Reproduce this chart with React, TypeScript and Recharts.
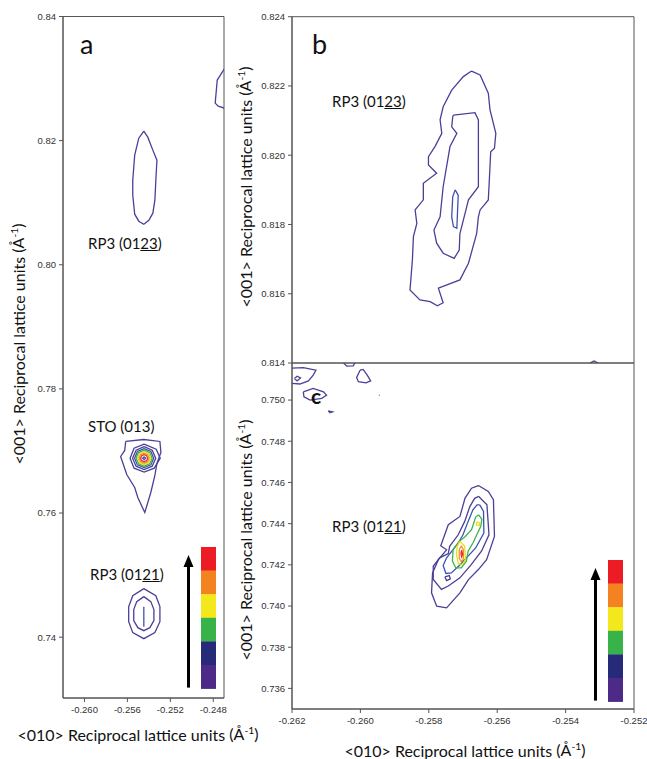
import { ScatterChart, Scatter, XAxis, YAxis, ReferenceArea } from "recharts";

type Pt = [number, number];
interface Contour {
  level: number;
  points: Pt[];
  open?: boolean;
}

// ticks
const aXTicks = [-0.26, -0.256, -0.252, -0.248];
const aYTicks = [0.74, 0.76, 0.78, 0.8, 0.82, 0.84];
const bYTicks = [0.814, 0.816, 0.818, 0.82, 0.822, 0.824];
const cXTicks = [-0.262, -0.26, -0.258, -0.256, -0.254, -0.252];
const cYTicks = [0.736, 0.738, 0.74, 0.742, 0.744, 0.746, 0.748, 0.75];

// panel a: wide map with RP3 (0123), STO (013), RP3 (0121)
const aContours: Contour[] = [
  {
    level: 0,
    points: [
      [-0.25447, 0.82153], [-0.2541, 0.82056], [-0.25363, 0.81847], [-0.25325, 0.81685],
      [-0.25335, 0.81363], [-0.25344, 0.8104], [-0.25363, 0.80831], [-0.254, 0.80718],
      [-0.25447, 0.80653], [-0.25494, 0.80702], [-0.25532, 0.80815], [-0.2555, 0.81121],
      [-0.2555, 0.81363], [-0.25532, 0.81766], [-0.25494, 0.8204],
    ],
  },
  {
    level: 0,
    open: true,
    points: [
      [-0.24698, 0.83153], [-0.24763, 0.82976], [-0.24782, 0.82605], [-0.24754, 0.82556], [-0.24698, 0.82524],
    ],
  },
  // STO (013)
  {
    level: 0,
    points: [
      [-0.25616, 0.77153], [-0.25447, 0.77185], [-0.25297, 0.77153], [-0.25288, 0.76976],
      [-0.25325, 0.76798], [-0.25344, 0.76605], [-0.25382, 0.76331], [-0.25438, 0.76008],
      [-0.25503, 0.7625], [-0.25532, 0.76411], [-0.25606, 0.76621], [-0.25644, 0.76815],
      [-0.25663, 0.76911], [-0.25625, 0.77008],
    ],
  },
  {
    level: 1,
    points: [
      [-0.25444, 0.77109], [-0.25332, 0.77029], [-0.25294, 0.76884], [-0.2535, 0.76723],
      [-0.25444, 0.76659], [-0.25538, 0.76723], [-0.25575, 0.76884], [-0.25538, 0.77045],
    ],
  },
  {
    level: 1,
    points: [
      [-0.25444, 0.77069], [-0.25369, 0.77013], [-0.25336, 0.76884], [-0.25369, 0.76755],
      [-0.25444, 0.76699], [-0.25519, 0.76755], [-0.25552, 0.76884], [-0.25519, 0.77013],
    ],
  },
  {
    level: 2,
    points: [
      [-0.25444, 0.77037], [-0.25381, 0.76992], [-0.25355, 0.76884], [-0.25381, 0.76776],
      [-0.25444, 0.76731], [-0.25507, 0.76776], [-0.25533, 0.76884], [-0.25507, 0.76992],
    ],
  },
  {
    level: 3,
    points: [
      [-0.25444, 0.77013], [-0.25392, 0.76974], [-0.25369, 0.76884], [-0.25392, 0.76794],
      [-0.25444, 0.76755], [-0.25496, 0.76794], [-0.25519, 0.76884], [-0.25496, 0.76974],
    ],
  },
  {
    level: 4,
    points: [
      [-0.25444, 0.76989], [-0.25401, 0.76958], [-0.25383, 0.76884], [-0.25401, 0.7681],
      [-0.25444, 0.76779], [-0.25487, 0.7681], [-0.25505, 0.76884], [-0.25487, 0.76958],
    ],
  },
  {
    level: 5,
    points: [
      [-0.25444, 0.76965], [-0.25411, 0.7694], [-0.25397, 0.76884], [-0.25411, 0.76828],
      [-0.25444, 0.76803], [-0.25477, 0.76828], [-0.25491, 0.76884], [-0.25477, 0.7694],
    ],
  },
  {
    level: 6,
    points: [
      [-0.25444, 0.7694], [-0.25421, 0.76924], [-0.25411, 0.76884], [-0.25421, 0.76844],
      [-0.25444, 0.76828], [-0.25467, 0.76844], [-0.25477, 0.76884], [-0.25467, 0.76924],
    ],
  },
  {
    level: 2,
    points: [
      [-0.25444, 0.76908], [-0.2543, 0.76884], [-0.25444, 0.7686], [-0.25458, 0.76884],
    ],
  },
  // RP3 (0121)
  {
    level: 0,
    points: [
      [-0.25447, 0.74782], [-0.25335, 0.74669], [-0.25297, 0.74492], [-0.25297, 0.7425],
      [-0.25344, 0.74073], [-0.25447, 0.73976], [-0.2555, 0.74073], [-0.25588, 0.7425],
      [-0.25588, 0.74492], [-0.2555, 0.74669],
    ],
  },
  {
    level: 1,
    points: [
      [-0.25447, 0.74653], [-0.25382, 0.74573], [-0.25353, 0.74444], [-0.25353, 0.74266],
      [-0.25391, 0.74153], [-0.25447, 0.74105], [-0.25503, 0.74153], [-0.25541, 0.74266],
      [-0.25541, 0.74444], [-0.25513, 0.74573],
    ],
  },
  { level: 2, open: true, points: [[-0.25447, 0.74492], [-0.25447, 0.74169]] },
];

// panel b: RP3 (0123) close-up
const bContours: Contour[] = [
  {
    level: 0,
    points: [
      [-0.25675, 0.82243], [-0.2565, 0.82232], [-0.25626, 0.82179], [-0.25621, 0.82131],
      [-0.25604, 0.82063], [-0.25608, 0.8202], [-0.25619, 0.8201], [-0.25623, 0.81928],
      [-0.25626, 0.81871], [-0.2565, 0.81842], [-0.25655, 0.81822], [-0.2566, 0.81774],
      [-0.25684, 0.81688], [-0.25709, 0.8164], [-0.25772, 0.81616], [-0.25758, 0.81574],
      [-0.25775, 0.81565], [-0.25796, 0.81577], [-0.25826, 0.81582], [-0.25855, 0.81611],
      [-0.25848, 0.81697], [-0.25845, 0.81765], [-0.25835, 0.81803], [-0.2584, 0.81842],
      [-0.25816, 0.81871], [-0.25816, 0.81919], [-0.25777, 0.81948], [-0.25801, 0.81972],
      [-0.25801, 0.81996], [-0.25782, 0.82025], [-0.25762, 0.82063], [-0.25767, 0.82102],
      [-0.25758, 0.8214], [-0.25733, 0.82188], [-0.25699, 0.82227],
    ],
  },
  {
    level: 1,
    points: [
      [-0.25728, 0.82116], [-0.25665, 0.82123], [-0.25655, 0.82102], [-0.25655, 0.82015],
      [-0.25655, 0.81909], [-0.25684, 0.81871], [-0.25694, 0.81832], [-0.25709, 0.81774],
      [-0.25711, 0.81726], [-0.25726, 0.81702], [-0.25758, 0.81717], [-0.25777, 0.81746],
      [-0.25785, 0.81784], [-0.25767, 0.81822], [-0.25758, 0.81909], [-0.25748, 0.81967],
      [-0.25738, 0.82025], [-0.25718, 0.82063], [-0.25733, 0.82082], [-0.2573, 0.82111],
    ],
  },
  {
    level: 2,
    points: [
      [-0.25723, 0.819], [-0.25714, 0.81885], [-0.25718, 0.81789], [-0.25728, 0.81794],
      [-0.25733, 0.81822], [-0.2573, 0.8188],
    ],
  },
  { level: 0, open: true, points: [[-0.25329, 0.814], [-0.25317, 0.81406], [-0.25305, 0.814]] },
];

// panel c: RP3 (0121) close-up
const cContours: Contour[] = [
  {
    level: 0,
    points: [
      [-0.25655, 0.74585], [-0.25626, 0.74556], [-0.25611, 0.74516], [-0.25608, 0.74338],
      [-0.25631, 0.74225], [-0.25655, 0.74177], [-0.25684, 0.74128], [-0.25709, 0.74064],
      [-0.25748, 0.73991], [-0.25777, 0.73999], [-0.25792, 0.74064], [-0.25789, 0.74161],
      [-0.25772, 0.74225], [-0.25748, 0.74273], [-0.25765, 0.74293], [-0.25743, 0.74395],
      [-0.25709, 0.74435], [-0.25694, 0.74524], [-0.25675, 0.74572],
    ],
  },
  {
    level: 1,
    points: [
      [-0.25654, 0.74532], [-0.2563, 0.74491], [-0.25624, 0.74346], [-0.25646, 0.74266],
      [-0.25676, 0.74201], [-0.25709, 0.74137], [-0.25743, 0.74097], [-0.25763, 0.74081],
      [-0.25787, 0.74129], [-0.25787, 0.74193], [-0.25768, 0.74234], [-0.25743, 0.74255],
      [-0.25739, 0.7429], [-0.25714, 0.74346], [-0.25695, 0.74411], [-0.2568, 0.74483],
      [-0.25666, 0.74523],
    ],
  },
  {
    level: 1,
    points: [[-0.25753, 0.74142], [-0.2574, 0.74148], [-0.25737, 0.74132], [-0.25748, 0.74123]],
  },
  {
    level: 2,
    points: [
      [-0.25651, 0.74491], [-0.2564, 0.74459], [-0.25639, 0.74354], [-0.25663, 0.74282],
      [-0.2569, 0.74234], [-0.25711, 0.74197], [-0.25734, 0.74161], [-0.2575, 0.74158],
      [-0.25758, 0.74197], [-0.25748, 0.74234], [-0.25729, 0.74274], [-0.25714, 0.74306],
      [-0.257, 0.74346], [-0.25685, 0.74411], [-0.25671, 0.74467], [-0.25659, 0.74491],
    ],
  },
  {
    level: 3,
    points: [
      [-0.25654, 0.74443], [-0.25645, 0.74422], [-0.25648, 0.74387], [-0.25671, 0.74306],
      [-0.25685, 0.74266], [-0.2569, 0.74218], [-0.25705, 0.74185], [-0.25721, 0.74185],
      [-0.25731, 0.74218], [-0.25729, 0.74274], [-0.25711, 0.74314], [-0.25695, 0.74335],
      [-0.25675, 0.74371], [-0.25663, 0.74432],
    ],
  },
  {
    level: 4,
    points: [
      [-0.25709, 0.74314], [-0.25695, 0.7429], [-0.25693, 0.74226], [-0.25702, 0.74201],
      [-0.25714, 0.74206], [-0.25719, 0.7425], [-0.25717, 0.7429],
    ],
  },
  {
    level: 4,
    points: [[-0.25659, 0.74409], [-0.25651, 0.74403], [-0.25653, 0.7439], [-0.25661, 0.74393]],
  },
  {
    level: 5,
    points: [
      [-0.25705, 0.74293], [-0.25699, 0.74274], [-0.25699, 0.74229], [-0.25705, 0.74216],
      [-0.25711, 0.74232], [-0.25711, 0.74274],
    ],
  },
  {
    level: 6,
    points: [[-0.25704, 0.74271], [-0.25701, 0.7425], [-0.25704, 0.74239], [-0.25706, 0.74255]],
  },
  // stray contours at the top left
  {
    level: 0,
    open: true,
    points: [
      [-0.262, 0.75155], [-0.26167, 0.75158], [-0.2613, 0.75145], [-0.26138, 0.75121],
      [-0.26152, 0.75093], [-0.26177, 0.75078], [-0.262, 0.75081],
    ],
  },
  {
    level: 0,
    points: [[-0.26193, 0.75105], [-0.26185, 0.75116], [-0.26175, 0.75108], [-0.26185, 0.75093]],
  },
  {
    level: 0,
    open: true,
    points: [[-0.26055, 0.7519], [-0.2604, 0.75165], [-0.26021, 0.75166], [-0.26013, 0.7519]],
  },
  {
    level: 0,
    points: [
      [-0.26001, 0.75145], [-0.25992, 0.75149], [-0.2598, 0.75121], [-0.2597, 0.75093],
      [-0.25984, 0.75084], [-0.26006, 0.75089], [-0.26011, 0.7511],
    ],
  },
  {
    level: 0,
    points: [
      [-0.26167, 0.7504], [-0.26138, 0.75057], [-0.26108, 0.7504], [-0.26099, 0.75024],
      [-0.26113, 0.75008], [-0.26147, 0.75], [-0.26165, 0.75016],
    ],
  },
  { level: 0, open: true, points: [[-0.25946, 0.75024], [-0.25944, 0.75023]] },
  { level: 0, points: [[-0.26094, 0.74948], [-0.26081, 0.74943], [-0.26089, 0.74938]] },
];

const levelColors = ["#4b3f97", "#4b3f97", "#3d52b0", "#3cb44b", "#e6dc1e", "#f39325", "#e5322d"];
const barColors = ["#ed1c24", "#f58220", "#f2e81b", "#37b34a", "#262a78", "#4d2a87"];

const AXIS = "#555";
const tickStyle = { fontSize: 9.5, fill: "#333", fontFamily: "Liberation Sans, Arial, sans-serif" };
const LABEL_FONT = "Lato, 'Open Sans', sans-serif";

const emptyShape = () => <g />;

function toRows(c: Contour) {
  const rows = c.points.map(([x, y]) => ({ x, y }));
  if (!c.open) rows.push({ x: c.points[0][0], y: c.points[0][1] });
  return rows;
}

function ContourChart(props: {
  contours: Contour[];
  width: number;
  height: number;
  margin: { top: number; right: number; bottom: number; left: number };
  xDomain: [number, number];
  yDomain: [number, number];
  xTicks?: number[];
  yTicks: number[];
  xDigits: number;
  yDigits: number;
  hideX?: boolean;
}) {
  const { contours, xDomain, yDomain } = props;
  return (
    <ScatterChart width={props.width} height={props.height} margin={props.margin}>
      <XAxis
        type="number"
        dataKey="x"
        domain={xDomain}
        ticks={props.xTicks}
        allowDataOverflow
        hide={props.hideX}
        height={30}
        tickSize={4}
        tickMargin={4}
        tick={tickStyle}
        stroke={AXIS}
        tickFormatter={(v: number) => v.toFixed(props.xDigits)}
      />
      <YAxis
        type="number"
        dataKey="y"
        domain={yDomain}
        ticks={props.yTicks}
        allowDataOverflow
        width={50}
        tickSize={4}
        tickMargin={3}
        tick={tickStyle}
        stroke={AXIS}
        tickFormatter={(v: number) => v.toFixed(props.yDigits)}
      />
      <ReferenceArea
        x1={xDomain[0]}
        x2={xDomain[1]}
        y1={yDomain[0]}
        y2={yDomain[1]}
        fill="none"
        stroke={AXIS}
        strokeWidth={1}
        ifOverflow="visible"
      />
      {contours.map((c, i) => (
        <Scatter
          key={i}
          data={toRows(c)}
          line={{ stroke: levelColors[c.level], strokeWidth: 1.3 }}
          lineType="joint"
          shape={emptyShape}
          legendType="none"
          isAnimationActive={false}
        />
      ))}
    </ScatterChart>
  );
}

function ColorBar({ left, top }: { left: number; top: number }) {
  const seg = 23.6;
  return (
    <svg style={{ position: "absolute", left, top }} width={36} height={seg * 6 + 2}>
      {barColors.map((c, i) => (
        <rect key={i} x={18} y={i * seg} width={15} height={seg + 0.3} fill={c} />
      ))}
      <line x1={5.5} x2={5.5} y1={seg * 6 - 1} y2={18} stroke="#000" strokeWidth={3} />
      <polygon points="0.5,20 5.5,8 10.5,20" fill="#000" />
    </svg>
  );
}

const Inv = () => (
  <span>
    (Å<sup style={{ fontSize: "0.65em", verticalAlign: "0.6em" }}>-1</sup>)
  </span>
);

function Note({ left, top, size, children, weight }: any) {
  return (
    <div
      style={{
        position: "absolute",
        left,
        top,
        fontSize: size,
        fontFamily: LABEL_FONT,
        fontWeight: weight ?? 400,
        lineHeight: 1,
        whiteSpace: "nowrap",
        color: "#111",
      }}
    >
      {children}
    </div>
  );
}

function YTitle({ cx, cy }: { cx: number; cy: number }) {
  return (
    <div
      style={{
        position: "absolute",
        left: cx,
        top: cy,
        transform: "translate(-50%, -50%) rotate(-90deg)",
        fontSize: 16,
        fontFamily: LABEL_FONT,
        lineHeight: 1,
        whiteSpace: "nowrap",
        color: "#111",
      }}
    >
      &lt;001&gt; Reciprocal lattice units <Inv />
    </div>
  );
}

function XTitle({ cx, cy }: { cx: number; cy: number }) {
  return (
    <div
      style={{
        position: "absolute",
        left: cx,
        top: cy,
        transform: "translate(-50%, -50%)",
        fontSize: 16,
        fontFamily: LABEL_FONT,
        lineHeight: 1,
        whiteSpace: "nowrap",
        color: "#111",
      }}
    >
      &lt;010&gt; Reciprocal lattice units <Inv />
    </div>
  );
}

const U = ({ children }: any) => <span style={{ textDecoration: "underline" }}>{children}</span>;

export default function App() {
  return (
    <div style={{ position: "absolute", left: 0, top: 0, width: 647, height: 759, background: "#fff", overflow: "hidden" }}>
      <div style={{ position: "absolute", left: 0, top: 0 }}>
        <ContourChart
          contours={aContours}
          width={240}
          height={759}
          margin={{ top: 16.5, right: 16, bottom: 31, left: 13 }}
          xDomain={[-0.262, -0.247]}
          yDomain={[0.7302, 0.84]}
          xTicks={aXTicks}
          yTicks={aYTicks}
          xDigits={3}
          yDigits={2}
        />
      </div>
      <div style={{ position: "absolute", left: 230, top: 0 }}>
        <ContourChart
          contours={bContours}
          width={417}
          height={380}
          margin={{ top: 16.7, right: 13, bottom: 17, left: 12 }}
          xDomain={[-0.262, -0.252]}
          yDomain={[0.814, 0.824]}
          yTicks={bYTicks}
          xDigits={3}
          yDigits={3}
          hideX
        />
      </div>
      <div style={{ position: "absolute", left: 230, top: 340 }}>
        <ContourChart
          contours={cContours}
          width={417}
          height={419}
          margin={{ top: 23, right: 13, bottom: 20, left: 12 }}
          xDomain={[-0.262, -0.252]}
          yDomain={[0.735, 0.7518]}
          xTicks={cXTicks}
          yTicks={cYTicks}
          xDigits={3}
          yDigits={3}
        />
      </div>

      <Note left={80} top={30} size={27}>a</Note>
      <Note left={312} top={30} size={27}>b</Note>
      <Note left={311} top={385} size={21} weight={700}>c</Note>

      <Note left={88} top={236} size={15}>RP3 (01<U>23</U>)</Note>
      <Note left={88} top={419} size={15}>STO (013)</Note>
      <Note left={90} top={567} size={15}>RP3 (01<U>21</U>)</Note>
      <Note left={332} top={94} size={15}>RP3 (01<U>23</U>)</Note>
      <Note left={332} top={519} size={15}>RP3 (01<U>21</U>)</Note>

      <ColorBar left={183} top={547} />
      <ColorBar left={590} top={560} />

      <YTitle cx={18} cy={344} />
      <YTitle cx={245} cy={187} />
      <YTitle cx={245} cy={540} />
      <XTitle cx={138} cy={734} />
      <XTitle cx={465} cy={750} />
    </div>
  );
}
